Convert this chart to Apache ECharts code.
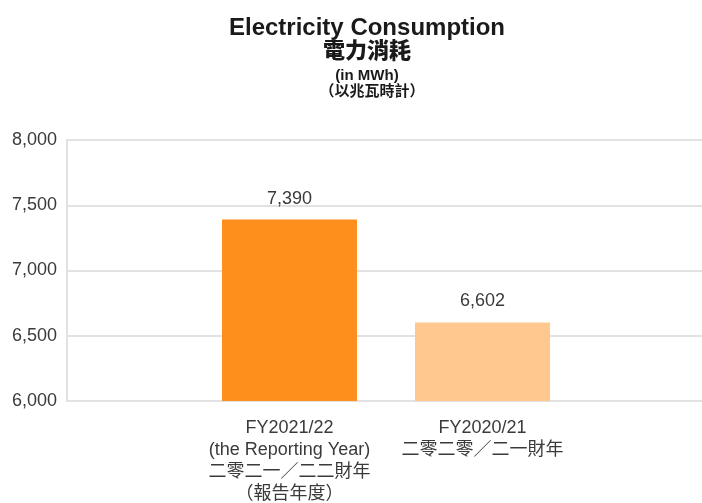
<!DOCTYPE html>
<html>
<head>
<meta charset="utf-8">
<script src="https://cdn.jsdelivr.net/npm/echarts@6/dist/echarts.min.js"></script>
<style>html,body{margin:0;padding:0;background:#fff}#c{width:702px;height:503px}</style>
</head>
<body>
<div id="c"></div>
<script>
var titleLines = ['Electricity Consumption', '電力消耗', '(in MWh)', '（以兆瓦時計）'];
var categories = [
  'FY2021/22\n(the Reporting Year)\n二零二一／二二財年\n（報告年度）',
  'FY2020/21\n二零二零／二一財年'
];
var values = [7390, 6602];
var barColors = ['#FF8F1C', '#FFC88F'];
var yMin = 6000, yMax = 8000, yStep = 500;

var font = '"Liberation Sans", "Noto Sans CJK TC", sans-serif';
var chart = echarts.init(document.getElementById('c'), null, {renderer: 'canvas'});
chart.setOption({
  animation: false,
  backgroundColor: '#fff',
  title: [
    {text: titleLines[0], left: 362, top: 11, textAlign: 'center', textStyle: {fontFamily: font, fontWeight: 900, fontSize: 24, color: '#1a1a1a'}},
    {text: titleLines[1], left: 362, top: 36, textAlign: 'center', textStyle: {fontFamily: font, fontWeight: 900, fontSize: 22, color: '#1a1a1a'}},
    {text: titleLines[2], left: 362, top: 63, textAlign: 'center', textStyle: {fontFamily: font, fontWeight: 'bold', fontSize: 15, color: '#1a1a1a'}},
    {text: titleLines[3], left: 367, top: 79, textAlign: 'center', textStyle: {fontFamily: font, fontWeight: 'bold', fontSize: 15, color: '#1a1a1a'}}
  ],
  grid: [
    {left: 67, right: -5, top: 140, bottom: 102, containLabel: false, outerBoundsMode: 'none'},
    {left: 193, right: 123, top: 140, bottom: 102, containLabel: false, outerBoundsMode: 'none'}
  ],
  xAxis: [
    {type: 'category', gridIndex: 0, data: [''], axisTick: {show: false}, axisLabel: {show: false},
     axisLine: {show: true, lineStyle: {color: '#e2e2e2', width: 2}}},
    {type: 'category', gridIndex: 1, data: categories, axisTick: {show: false},
     axisLine: {show: false},
     axisLabel: {margin: 16, fontFamily: font, fontSize: 18, lineHeight: 22, color: '#3a3a3a', interval: 0}}
  ],
  yAxis: [
    {type: 'value', gridIndex: 0, min: yMin, max: yMax, interval: yStep,
     axisLine: {show: true, lineStyle: {color: '#e2e2e2', width: 2}},
     axisTick: {show: false},
     splitLine: {show: true, lineStyle: {color: '#e2e2e2', width: 2}},
     axisLabel: {margin: 10, fontFamily: font, fontSize: 18, color: '#3a3a3a',
       formatter: function (v) { return v.toLocaleString('en-US'); }}},
    {type: 'value', gridIndex: 1, min: yMin, max: yMax, interval: yStep, show: false}
  ],
  series: [{
    type: 'bar', xAxisIndex: 1, yAxisIndex: 1, barWidth: 135, z: 10,
    data: values.map(function (v, i) { return {value: v, itemStyle: {color: barColors[i]}}; }),
    label: {show: true, position: 'top', distance: 12, fontFamily: font, fontSize: 18, color: '#3a3a3a',
      formatter: function (p) { return p.value.toLocaleString('en-US'); }}
  }]
});
</script>
</body>
</html>
